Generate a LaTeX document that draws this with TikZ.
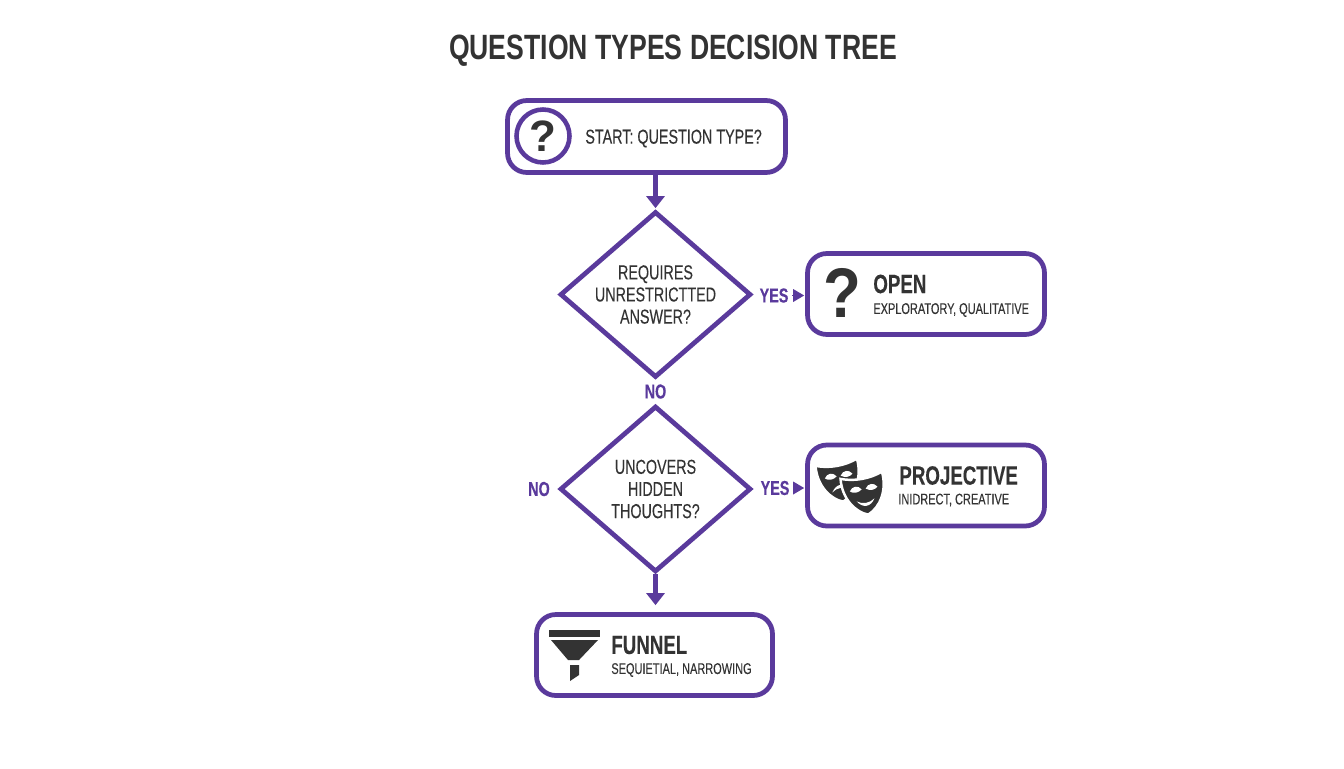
\documentclass[tikz,border=0pt]{standalone}
\usepackage{fontspec}
\setmainfont{Liberation Sans}
\newfontfamily\titlefont[FakeStretch=0.757]{Liberation Sans}
\newfontfamily\condfont[FakeStretch=0.71,FakeBold=0.2]{Liberation Sans}
\newfontfamily\iconfont[FakeStretch=0.88]{Liberation Sans}
\usetikzlibrary{arrows.meta}
\usetikzlibrary{shapes.geometric}
\definecolor{qpurple}{HTML}{5A3A9C}
\definecolor{qdark}{HTML}{333333}
\tikzset{
    termbox/.style={draw=qpurple, line width=2.7pt, rounded corners=11pt, fill=white, minimum width=#1, minimum height=1.62cm},
    askdiamond/.style={draw=qpurple, line width=2.7pt, shape=diamond, aspect=1.15, inner sep=0pt, minimum width=3.82cm, minimum height=3.32cm, align=center, text=qdark, font=\condfont\fontsize{11.5}{12.6}\selectfont},
    flowarrow/.style={draw=qpurple, line width=2.7pt, -{Triangle[length=12*0.02cm, width=18*0.02cm]}},
    yesarrow/.style={draw=qpurple, line width=0pt, shorten <=0.08cm, shorten >=0.02cm, -{Triangle[length=11*0.02cm, width=13*0.02cm]}},
    answerlabel/.style={text=qpurple, inner sep=0pt, font=\condfont\fontsize{11.5}{12}\bfseries\selectfont},
    headlabel/.style={text=qdark, anchor=west, inner sep=0pt, font=\condfont\fontsize{15}{16}\bfseries\selectfont},
    sublabel/.style={text=qdark, anchor=west, inner sep=0pt, font=\condfont\fontsize{8.8}{10}\selectfont},
    pics/mask/.style={code={
        \filldraw[fill=qdark, draw=white, line width=1.4pt] (-21,-16) .. controls (-8,-11) and (8,-11) .. (21,-16) .. controls (23,3) and (13,19) .. (0,24) .. controls (-13,19) and (-23,3) .. (-21,-16) -- cycle;
        \fill[white] (-14,-2) .. controls (-11,-7) and (-5,-7) .. (-2,-2) .. controls (-6,1) and (-11,1) .. (-14,-2) -- cycle;
        \fill[white] (14,-2) .. controls (11,-7) and (5,-7) .. (2,-2) .. controls (6,1) and (11,1) .. (14,-2) -- cycle;
        \fill[white] (-9,{11-2*#1}) .. controls (-4,{11+6*#1}) and (4,{11+6*#1}) .. (9,{11-2*#1}) .. controls (4,{11+2*#1}) and (-4,{11+2*#1}) .. (-9,{11-2*#1}) -- cycle;
    }},
}

\begin{document}
\begin{tikzpicture}[x=0.02cm, y=-0.02cm]
    \useasboundingbox (0,0) rectangle (1344,768);

    \node[text=qdark, inner sep=0pt, font=\titlefont\fontsize{20}{24}\bfseries\selectfont] (title) at (673,51) {QUESTION TYPES DECISION TREE};

    % boxes and diamonds
    \node[termbox=5.56cm, minimum height=1.44cm] (start) at (646.5,136.5) {};
    \node[askdiamond] (asktext) at (655.5,294.5) {REQUIRES\\UNRESTRICTTED\\ANSWER?};
    \node[askdiamond] (askhidden) at (655.5,489) {UNCOVERS\\HIDDEN\\THOUGHTS?};
    \node[termbox=4.74cm] (open) at (926,294) {};
    \node[termbox=4.74cm] (projective) at (926,485.5) {};
    \node[termbox=4.72cm] (funnel) at (654.5,655) {};

    % start box
    \node[circle, draw=qpurple, line width=2.6pt, minimum size=1.06cm, inner sep=0pt, text=qdark, font=\fontsize{25}{25}\bfseries\selectfont] (starticon) at (543,136) {?};
    \node[text=qdark, anchor=west, inner sep=0pt, font=\condfont\fontsize{11.5}{13}\selectfont] (startlabel) at (585,138.5) {START: QUESTION TYPE?};

    % open box
    \node[text=qdark, inner sep=0pt, font=\iconfont\fontsize{40}{40}\bfseries\selectfont] (openicon) at (842,293) {?};
    \node[headlabel] (openhead) at (873,284) {OPEN};
    \node[sublabel] (opensub) at (873,310) {EXPLORATORY, QUALITATIVE};

    % projective box
    \pic[rotate=10] at (839,478) {mask=-1};
    \pic[rotate=10] at (864,491) {mask=1};
    \node[headlabel] (projhead) at (899,475.5) {PROJECTIVE};
    \node[sublabel] (projsub) at (898,500) {INIDRECT, CREATIVE};

    % funnel box
    \fill[qdark] (549,630) rectangle (600,637);
    \fill[qdark] (551,640) -- (598,640) -- (579,660) -- (568,660) -- cycle;
    \fill[qdark] (570,665) -- (579,665) -- (579,675) -- (570,681) -- cycle;
    \node[headlabel] (funnelhead) at (611,645) {FUNNEL};
    \node[sublabel] (funnelsub) at (611,670) {SEQUIETIAL, NARROWING};

    % answers
    \node[answerlabel] (yesopen) at (774,295.5) {YES};
    \node[answerlabel] (yesproj) at (775,488) {YES};
    \node[answerlabel] (notext) at (655.5,391.5) {NO};
    \node[answerlabel] (nohidden) at (539,489) {NO};

    % connectors
    \draw[flowarrow, shorten >=0.02cm] (asktext.north |- start.south) -- (asktext.north);
    \draw[flowarrow, shorten >=0.14cm] (askhidden.south) -- (askhidden.south |- funnel.north);
    \draw[yesarrow] (yesopen.east) -- (open.west |- yesopen.east);
    \draw[yesarrow] (yesproj.east) -- (projective.west |- yesproj.east);
\end{tikzpicture}
\end{document}
